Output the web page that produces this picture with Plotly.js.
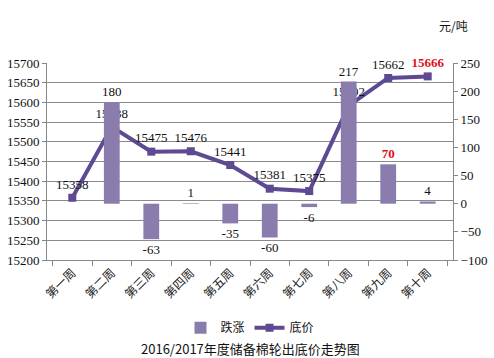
<!DOCTYPE html>
<html><head><meta charset="utf-8">
<script src="https://cdn.plot.ly/plotly-3.0.1.min.js"></script>
<style>html,body{margin:0;padding:0;background:#fff}#c{width:494px;height:358px}</style>
</head><body><div id="c"></div>
<script>
const categories = ["第一周","第二周","第三周","第四周","第五周","第六周","第七周","第八周","第九周","第十周"];
const change = [null, 180, -63, 1, -35, -60, -6, 217, 70, 4];
const price = [15358, 15538, 15475, 15476, 15441, 15381, 15375, 15592, 15662, 15666];
const leftTicks = [15200,15250,15300,15350,15400,15450,15500,15550,15600,15650,15700];
const rightTicks = [-100,-50,0,50,100,150,200,250];

const serif = "Liberation Serif, Times New Roman, serif";
const cjk = "Noto Sans CJK SC, sans-serif";

const barText = change.map(v => v === null ? "" : (v === 70 ? "<b>70</b>" : String(v)));
const barTextColor = change.map(v => v === 70 ? "#e0101a" : "#111");
const lineText = price.map((v,i) => i === price.length-1 ? "<b>"+v+"</b>" : String(v));
const lineTextColor = price.map((v,i) => i === price.length-1 ? "#e0101a" : "#111");

const traces = [
  {type:"bar", name:"跌涨", x:categories, y:change, yaxis:"y2",
   marker:{color:"#8b7cae", line:{width:0}}, width:0.4,
   text:barText, textposition:"outside", cliponaxis:false, constraintext:"none",
   textfont:{family:serif, size:13, color:barTextColor}},
  {type:"scatter", mode:"lines+markers+text", name:"底价", x:categories, y:price,
   line:{color:"#5d4a92", width:4}, marker:{symbol:"square", size:8, color:"#5d4a92"},
   text:lineText, textposition:"top center", cliponaxis:false,
   textfont:{family:serif, size:13, color:lineTextColor}}
];

const layout = {
  width:494, height:358,
  margin:{l:47, r:41, t:63, b:98, autoexpand:false},
  paper_bgcolor:"#fff", plot_bgcolor:"#fff",
  showlegend:true,
  legend:{orientation:"h", x:0.5, xanchor:"center", y:-0.27, yanchor:"top",
          font:{family:cjk, size:12, color:"#111"}, traceorder:"normal"},
  xaxis:{type:"category", tickangle:-45, tickfont:{family:cjk, size:12, color:"#222"}, automargin:false,
         showline:true, linecolor:"#888", linewidth:1, ticks:"outside", ticklen:5, tickcolor:"#888",
         tickson:"boundaries", showgrid:false, zeroline:false},
  yaxis:{range:[15200,15700], tickvals:leftTicks, tickformat:"d", ticks:"outside", ticklen:4, tickcolor:"#888",
         showline:true, linecolor:"#888", gridcolor:"#8a8a8a", gridwidth:1, zeroline:false, automargin:false,
         tickfont:{family:serif, size:13, color:"#111"}},
  yaxis2:{range:[-100,250], tickvals:rightTicks, overlaying:"y", side:"right", automargin:false,
          ticks:"outside", ticklen:4, tickcolor:"#888", showline:true, linecolor:"#888",
          showgrid:false, zeroline:false, tickfont:{family:serif, size:13, color:"#111"}},
  annotations:[
    {text:"元/吨", xref:"paper", yref:"paper", x:1.0, y:1.0, yshift:38, xanchor:"center", yanchor:"middle",
     showarrow:false, font:{family:cjk, size:12, color:"#111"}},
    {text:"2016/2017年度储备棉轮出底价走势图", xref:"paper", yref:"paper", x:0.5, y:0, yshift:-88,
     xanchor:"center", yanchor:"middle", showarrow:false, font:{family:cjk, size:13, color:"#111"}}
  ],
  bargap:0.6
};
Plotly.newPlot("c", traces, layout, {staticPlot:true});
</script></body></html>
